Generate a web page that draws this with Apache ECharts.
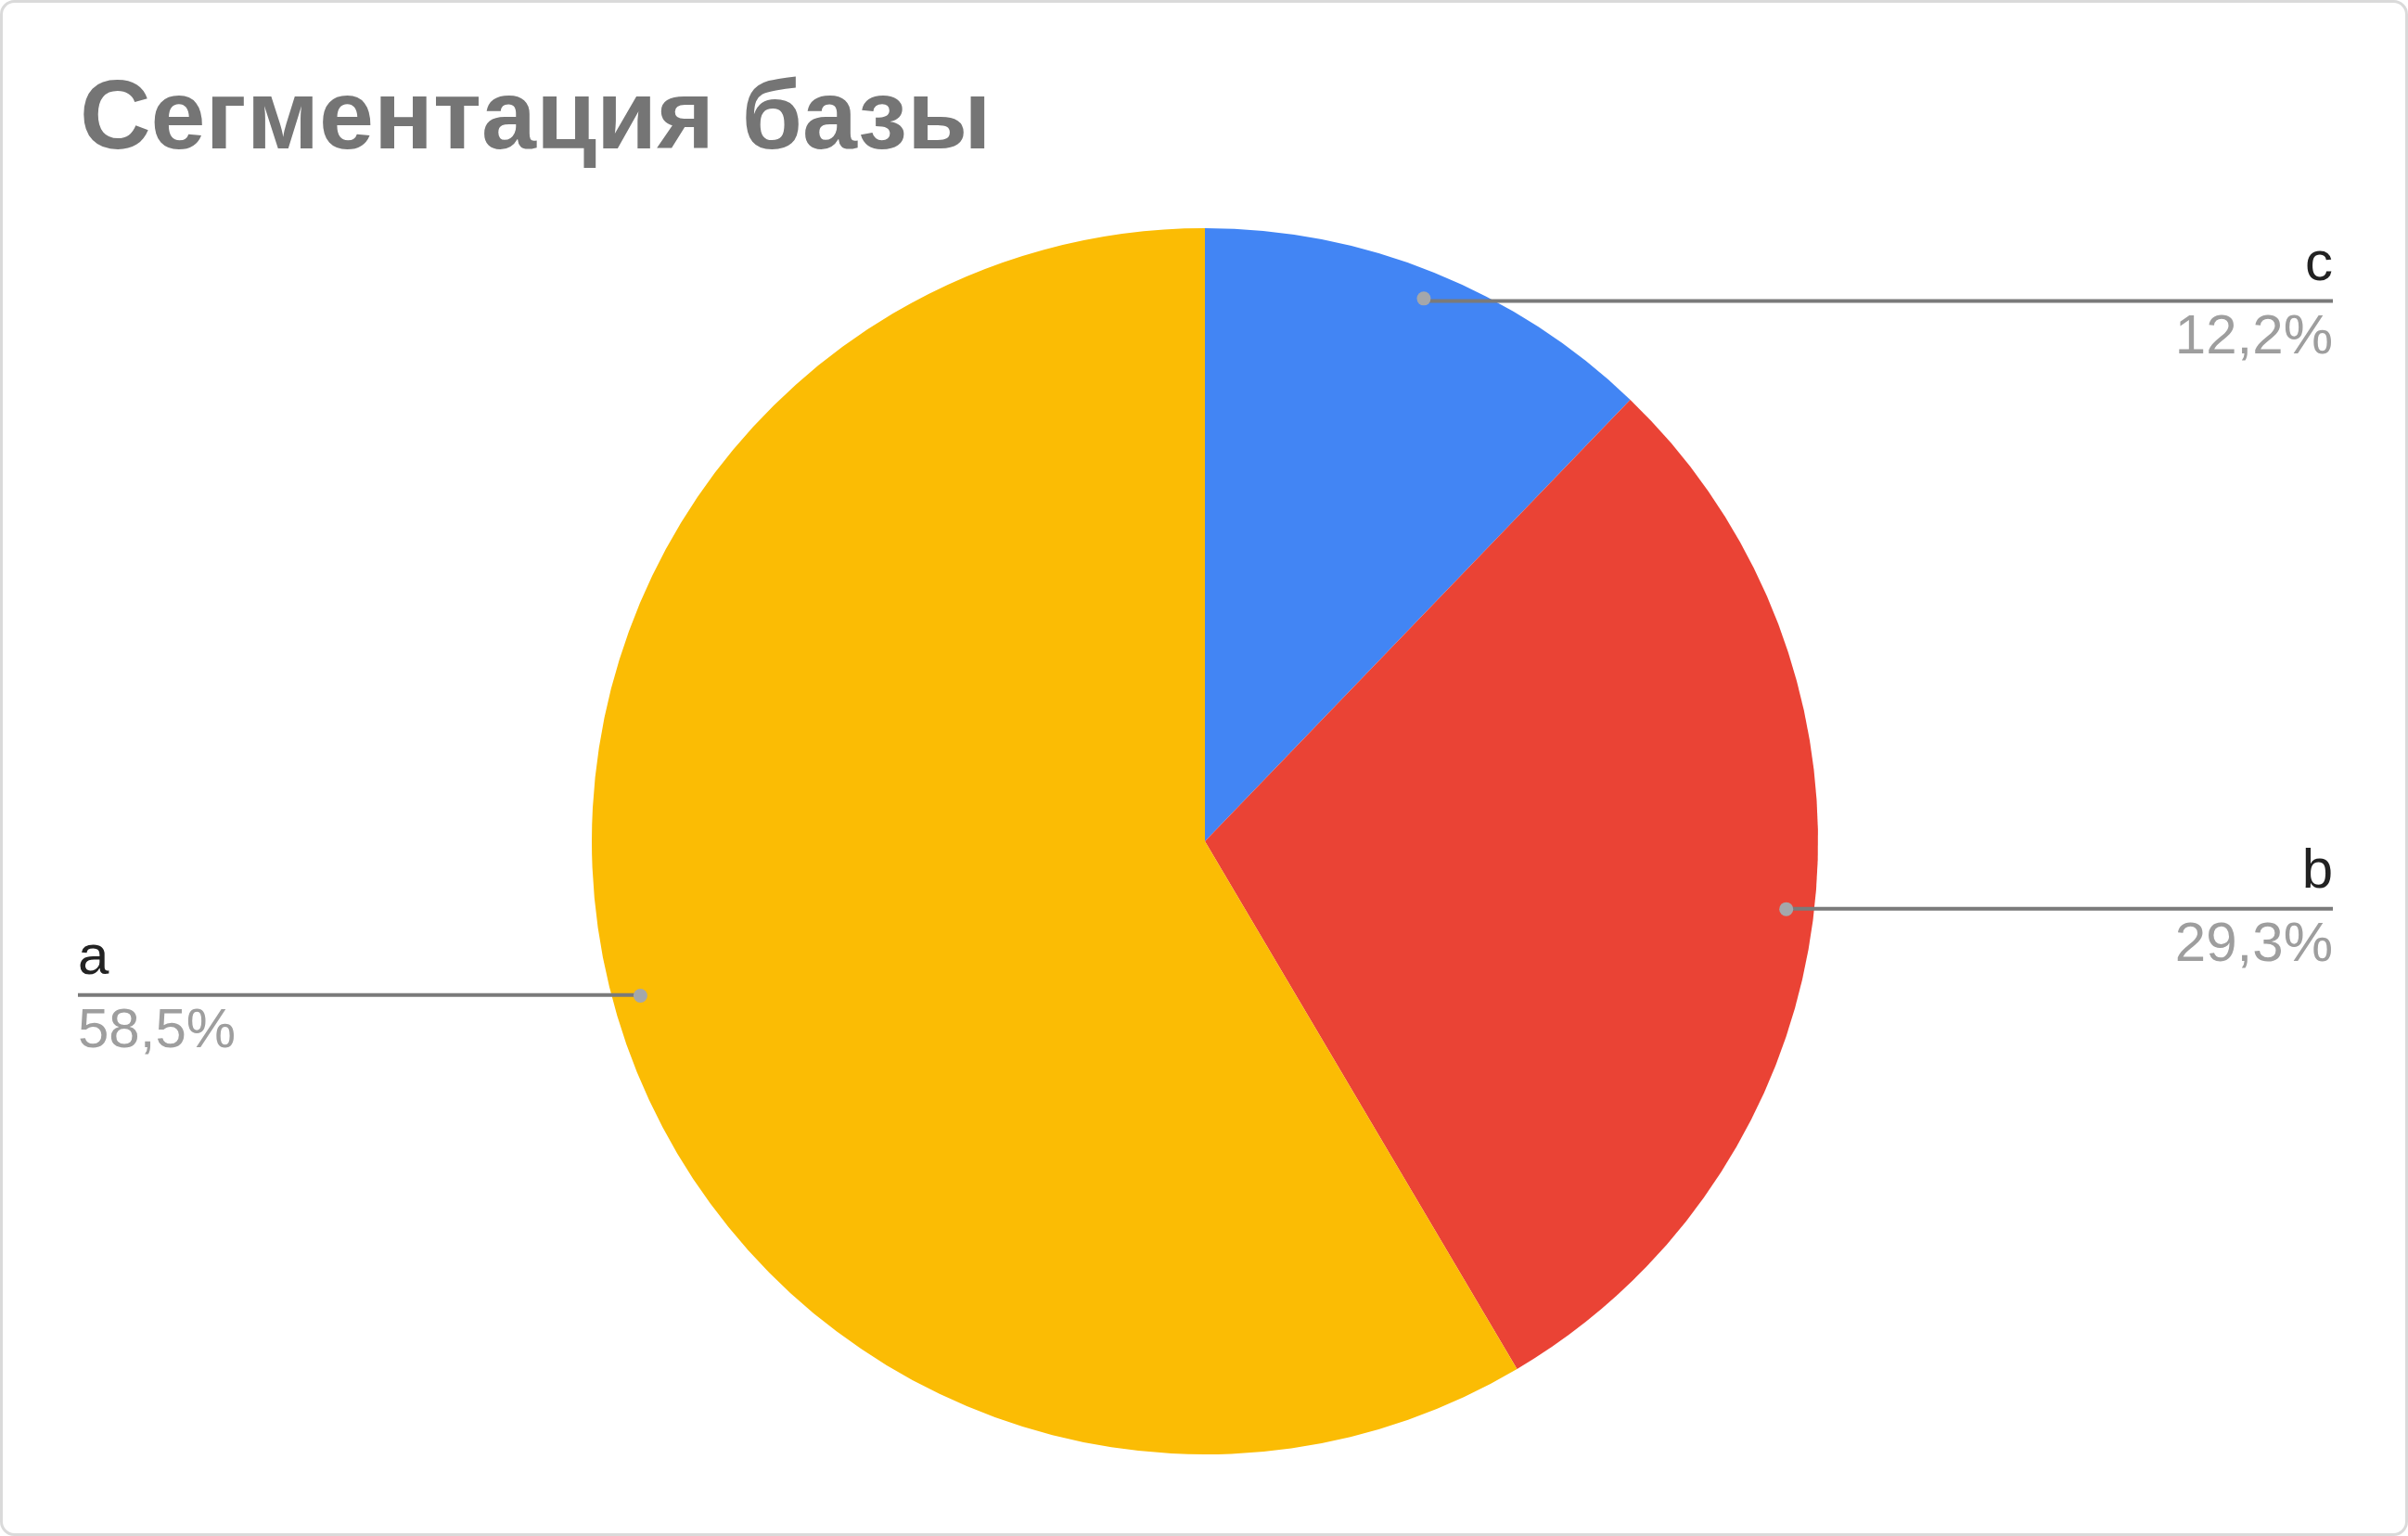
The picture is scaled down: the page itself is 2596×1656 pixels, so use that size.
<!DOCTYPE html>
<html>
<head>
<meta charset="utf-8">
<title>Сегментация базы</title>
<script src="https://cdn.jsdelivr.net/npm/echarts@6/dist/echarts.min.js"></script>
<style>
  html, body { margin: 0; padding: 0; background: #fff; }
  #container { width: 2596px; height: 1656px; }
</style>
</head>
<body>
<div id="container"></div>
<script>
    // data
    var categories = ['c', 'b', 'a'];
    var shares = [12.2, 29.3, 58.5];
    var colors = ['#4285f4', '#ea4335', '#fbbc04'];
    var titleText = 'Сегментация базы';

    // pie geometry (px)
    var CX = 1299, CY = 907, R = 661;
    var DOT_R = R * 0.95;      // dots and line starts sit at 95% of radius
    var RIGHT_EDGE = 2515, LEFT_EDGE = 84;
    var FONT = 'Liberation Sans, Arial, sans-serif';

    var dom = document.getElementById("container");
    var myChart = echarts.init(dom, null, { renderer: 'canvas' });

    var pieData = categories.map(function (name, i) {
        return { name: name, value: shares[i], itemStyle: { color: colors[i] } };
    });
    // same slices, see-through: used only to carry labels/lines/dots above the pie
    var ghostData = categories.map(function (name, i) {
        return { name: name, value: shares[i], itemStyle: { color: 'rgba(0,0,0,0)' } };
    });

    function fmtPct(p) {
        return p.toFixed(1).replace('.', ',') + '%';
    }

    // fallback mid-angle from data if the library gives no label line points
    function midPoint(idx) {
        var total = 0, before = 0;
        shares.forEach(function (v, i) { total += v; if (i < idx) before += v; });
        var a = (before + shares[idx] / 2) / total * Math.PI * 2;
        return [CX + DOT_R * Math.sin(a), CY - DOT_R * Math.cos(a)];
    }

    var option = {
        backgroundColor: '#ffffff',
        animation: false,
        title: {
            text: titleText,
            left: 86,
            top: 78,
            padding: 0,
            textStyle: {
                fontFamily: FONT,
                fontSize: 106,
                fontWeight: 'bold',
                color: '#757575'
            }
        },
        graphic: [{
            type: 'rect',
            silent: true,
            shape: { x: 1.5, y: 1.5, width: 2593, height: 1653, r: 14 },
            style: { fill: 'none', stroke: '#dadada', lineWidth: 3 }
        }],
        series: [{
            type: 'pie',
            z: 1,
            center: [CX, CY],
            radius: R,
            startAngle: 90,
            clockwise: true,
            data: pieData,
            itemStyle: { borderWidth: 0 },
            emphasis: { disabled: true },
            label: { show: false },
            labelLine: { show: false }
        }, {
            // labels and leader lines, hosted by a smaller see-through pie
            type: 'pie',
            z: 5,
            center: [CX, CY],
            radius: DOT_R,
            startAngle: 90,
            clockwise: true,
            silent: true,
            avoidLabelOverlap: false,
            data: ghostData,
            label: {
                show: true,
                position: 'outside',
                formatter: function (p) {
                    return '{n|' + p.name + '}\n{p|' + fmtPct(p.percent) + '}';
                },
                rich: {
                    n: { fontFamily: FONT, fontSize: 60, color: '#222222', lineHeight: 80 },
                    p: { fontFamily: FONT, fontSize: 60, color: '#9e9e9e', lineHeight: 78 }
                }
            },
            labelLine: {
                show: true,
                length: 20,
                length2: 20,
                smooth: false,
                lineStyle: { color: '#7a7a7a', width: 4 }
            },
            labelLayout: function (params) {
                var pts = params.labelLinePoints;
                var p0 = (pts && pts.length) ? pts[0] : midPoint(params.dataIndex);
                var right = p0[0] > CX;
                var tx = right ? RIGHT_EDGE : LEFT_EDGE;
                return {
                    x: tx,
                    y: p0[1],
                    align: right ? 'right' : 'left',
                    verticalAlign: 'middle',
                    labelLinePoints: [[p0[0], p0[1]], [tx, p0[1]]]
                };
            }
        }, {
            // invisible ring whose inside labels mark the dots at the line starts
            type: 'pie',
            z: 6,
            center: [CX, CY],
            radius: [R * 0.9, R],
            startAngle: 90,
            clockwise: true,
            silent: true,
            data: ghostData,
            label: {
                show: true,
                position: 'inside',
                rotate: 0,
                formatter: '{d|}',
                rich: {
                    d: { width: 15, height: 15, borderRadius: 7.5, backgroundColor: '#a4a7ab' }
                }
            },
            labelLine: { show: false }
        }]
    };

    if (option && typeof option === "object") {
        myChart.setOption(option, true);
    }
</script>
</body>
</html>
